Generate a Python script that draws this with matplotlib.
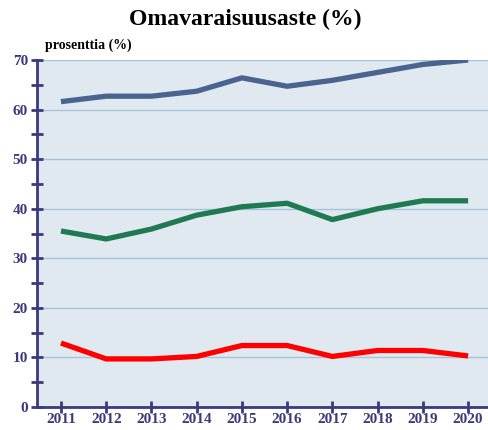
import matplotlib.pyplot as plt
from matplotlib.ticker import MultipleLocator

years = [2011, 2012, 2013, 2014, 2015, 2016, 2017, 2018, 2019, 2020]
series_top = [61.6, 62.7, 62.7, 63.7, 66.4, 64.7, 65.9, 67.5, 69.1, 70.0]
series_mid = [35.5, 33.9, 35.9, 38.7, 40.4, 41.1, 37.8, 40.0, 41.6, 41.6]
series_low = [12.9, 9.7, 9.7, 10.2, 12.4, 12.4, 10.2, 11.4, 11.4, 10.3]

navy = '#3a3a7c'

plt.rcParams['font.family'] = ['Liberation Serif', 'DejaVu Serif']
plt.rcParams['font.weight'] = 'bold'

fig = plt.figure(figsize=(4.88, 4.3), dpi=100)
ax = fig.add_axes([37 / 488, 1 - 407 / 430, 1 - 37 / 488, 347 / 430])
ax.set_facecolor('#e0e8f0')

ax.plot(years, series_top, color='#4a6490', lw=3.8, solid_capstyle='butt', zorder=3)
ax.plot(years, series_mid, color='#1f7a52', lw=3.8, solid_capstyle='butt', zorder=3)
ax.plot(years, series_low, color='#ff0000', lw=3.8, solid_capstyle='butt', zorder=3)

ax.set_xlim(2010.47, 2020.44)
ax.set_ylim(0, 70)
ax.set_xticks(years)
ax.yaxis.set_major_locator(MultipleLocator(10))
ax.yaxis.set_minor_locator(MultipleLocator(5))
ax.grid(axis='y', which='major', color='#a6c4d8', lw=1)
ax.set_axisbelow(True)

for side in ['top', 'right']:
    ax.spines[side].set_visible(False)
for side in ['left', 'bottom']:
    ax.spines[side].set_color(navy)
    ax.spines[side].set_linewidth(2)

ax.tick_params(axis='both', which='both', direction='inout', color=navy, width=2,
               labelcolor=navy, labelsize=11)
ax.tick_params(axis='y', which='major', length=9, pad=2)
ax.tick_params(axis='y', which='minor', length=9)
ax.tick_params(axis='x', which='major', length=9, pad=0)
for lab in ax.get_xticklabels() + ax.get_yticklabels():
    lab.set_fontweight('bold')

fig.text(0.503, 0.955, 'Omavaraisuusaste (%)', ha='center', va='center',
         fontsize=17, fontweight='bold', color='black')
fig.text(45 / 488, 1 - 45 / 430, 'prosenttia (%)', ha='left', va='center',
         fontsize=10, fontweight='bold', color='black')

fig.savefig('out.png', dpi=100)
